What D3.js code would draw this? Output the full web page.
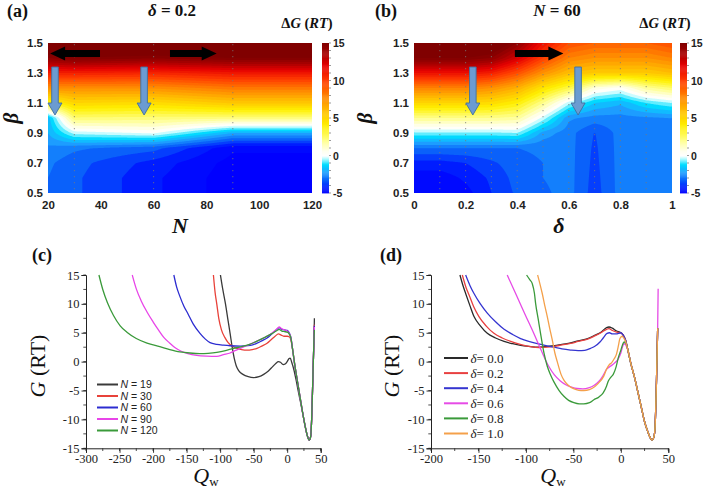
<!DOCTYPE html>
<html><head><meta charset="utf-8">
<script src="https://cdn.jsdelivr.net/npm/d3@7/dist/d3.min.js"></script>
<style>html,body{margin:0;padding:0;background:#fff;}svg{display:block}</style>
</head><body>
<svg id="fig" width="709" height="496"></svg>
<script>
// ---------------- data ----------------
const betaVals = [0.5,0.6,0.7,0.8,0.9,1.0,1.1,1.2,1.3,1.4,1.5];
const nVals = [20,30,60,90,120];
// rows: beta 0.5 -> 1.5 ; cols: nVals   (ΔG in RT, panel a, δ = 0.2)
const dG_N = [
 [-3.0,-3.4,-4.4,-5.3,-5.3],
 [-3.0,-3.4,-4.4,-5.3,-5.3],
 [-2.9,-3.3,-4.2,-5.2,-5.2],
 [-2.6,-2.9,-3.3,-4.9,-4.9],
 [-2.0,-0.3,0.1,-2.0,-2.0],
 [-1.8,2.4,2.3,2.2,2.2],
 [3.6,5.0,4.8,5.6,5.6],
 [7.6,7.6,7.6,8.3,8.3],
 [11.0,11.0,10.8,11.3,11.3],
 [14.5,15.0,14.6,15.0,15.0],
 [17,17,17,17,17]
];
const deltaVals = [0,0.1,0.2,0.3,0.4,0.5,0.6,0.7,0.8,0.9,1.0];
// rows: beta 0.5 -> 1.5 ; cols: deltaVals  (ΔG in RT, panel b, N = 60)
const dG_delta = [
 [-5.0,-5.0,-4.7,-4.0,-3.4,-3.1,-2.8,-3.75,-2.8,-2.8,-2.8],
 [-4.8,-4.8,-4.4,-3.9,-3.3,-3.0,-2.8,-3.7,-2.8,-2.8,-2.8],
 [-4.2,-4.2,-4.0,-3.6,-3.2,-3.0,-2.8,-3.65,-2.8,-2.8,-2.8],
 [-3.0,-3.0,-3.0,-3.0,-3.0,-2.9,-2.8,-3.6,-2.8,-2.8,-2.8],
 [-0.6,-0.6,-0.6,-0.6,-0.5,-2.2,-2.8,-3.52,-2.8,-2.8,-2.8],
 [2.0,2.0,2.0,2.0,1.8,-0.2,-2.4,-2.7,-2.7,-2.6,-2.5],
 [5.0,5.0,5.0,4.8,4.0,2.0,-0.3,-1.5,-1.9,-1.0,-0.5],
 [8.0,8.0,8.0,7.5,6.5,4.5,3.0,0.8,0.3,1.8,2.5],
 [11.5,11.5,11.5,11.0,9.5,7.5,6.0,5.5,5.5,5.5,6.0],
 [15,15,15,14.5,12.5,10,8,7.5,7.5,7.5,8],
 [17,17,17,16.5,14.5,11.5,9.5,9,9,9,9.5]
];
const betaTicks = [0.5,0.7,0.9,1.1,1.3,1.5];
const nTicks = [20,40,60,80,100,120];
const deltaTicks = [0,0.2,0.4,0.6,0.8,1];
const cbTicks = [-5,0,5,10,15];
const gridN = [30,60,90];
const gridDelta = [0.1,0.2,0.3,0.4,0.5,0.6,0.7,0.8,0.9];

// annotation arrows (data coordinates)
const blackArrowsA = [{from:39.7,to:20.8,beta:1.43},{from:66.2,to:83.9,beta:1.43}];
const blueArrowsA = [{x:22.65,from:1.34,to:1.02},{x:56.4,from:1.34,to:1.02}];
const blackArrowsB = [{from:0.391,to:0.579,beta:1.43}];
const blueArrowsB = [{x:0.228,from:1.34,to:1.02},{x:0.636,from:1.34,to:1.02}];

// panel c : G(Qw) for different N
const tailC = [[23,-8.8],[26.5,-11],[30,-12.8],[33,-13.6],[35,-13],[36.5,-10],[37.8,-5],[39,0],[40,4]];
const descC = [[8,2.2],[11,-0.3],[14,-2.5],[17,-4.6],[20,-6.7]];
const gN19 = [[-99.5,15],[-96,12.5],[-92,10],[-88,7],[-85,4.8],[-82,2.5],[-79,0.6],[-76,-0.7],[-72,-1.6],[-66,-2.2],[-58,-2.6],[-50,-2.75],[-42,-2.6],[-35,-2.2],[-28,-1.6],[-22,-0.9],[-17,-0.3],[-13,0.0],[-10,-0.1],[-6,-0.5],[-3,-0.4],[0,0],[2.5,0.5],[4.5,0.6],[7,-0.2],[10,-1.4],[13,-3.0],[16,-4.8],[19.5,-6.8]];
const gN30 = [[-110,15],[-107.5,12],[-105,10],[-102,7.5],[-98,5.5],[-93,4.2],[-88,3.3],[-82,2.7],[-75,2.3],[-68,2.1],[-60,2.0],[-52,2.1],[-45,2.3],[-38,2.7],[-30,3.2],[-24,3.8],[-18,4.4],[-13,4.8],[-9,4.6],[-5,4.4],[0,4.4],[3,4.3],[5.5,3.8]];
const gN60 = [[-169,15],[-165,13],[-160,11.3],[-154,9.6],[-148,8.3],[-140,6.5],[-130,4.9],[-122,3.9],[-115,3.3],[-105,3.0],[-95,2.85],[-85,2.75],[-70,2.7],[-55,2.8],[-45,3.2],[-38,3.6],[-30,4.1],[-22,4.9],[-16,5.5],[-12,5.9],[-8,5.6],[-4,5.5],[0,5.4],[3,5.0],[5.5,4.2]];
const gN90 = [[-231,15],[-225,12.6],[-218,10.6],[-209,8.6],[-200,6.9],[-192,5.5],[-184,4.2],[-175,3.2],[-167,2.4],[-158,1.8],[-148,1.4],[-135,1.1],[-120,0.95],[-105,0.9],[-95,1.2],[-85,1.5],[-78,1.9],[-70,2.3],[-60,2.8],[-50,3.3],[-40,3.8],[-30,4.4],[-22,5.0],[-16,5.6],[-12,6.0],[-8,5.7],[-4,5.5],[0,5.3],[3,4.9],[5.5,4.2]];
const gN120 = [[-280.7,15],[-275,12.5],[-268,10.2],[-259,8.0],[-249,6.2],[-238,5.0],[-225,4.0],[-209,3.2],[-190,2.6],[-175,2.1],[-160,1.7],[-145,1.5],[-130,1.4],[-118,1.45],[-105,1.6],[-92,1.9],[-80,2.3],[-68,2.6],[-56,3.0],[-44,3.6],[-32,4.3],[-22,4.9],[-15,5.4],[-12,5.6],[-8,5.3],[-4,5.2],[0,5.1],[3,4.8],[5.5,4.1]];
const endC = [7.5,6.4,6.2,6.0,5.5];
const labelsC = ["19","30","60","90","120"];

// panel d : G(Qw) for different delta
const tailD = [[7.7,1.8],[10.5,-0.3],[14.7,-2.9],[18,-5.3],[21.7,-8],[25,-10.4],[28.8,-12.3],[31,-13.2],[33,-13.6],[34.5,-13.2],[35.8,-12],[36.8,-8],[37.6,-3],[38.3,2],[38.8,5.8]];
const gD00 = [[-169.5,15],[-166,13],[-163.5,11.8],[-159,9.7],[-154.7,7.8],[-148,6.2],[-140.7,4.9],[-132,4.1],[-123,3.5],[-114,3.1],[-105.6,2.8],[-95,2.6],[-88,2.5],[-80,2.6],[-70,2.75],[-62,3.0],[-53,3.25],[-45,3.6],[-35,4.0],[-27,4.6],[-21,5.1],[-15,5.9],[-12.5,6.0],[-9,5.8],[-4.5,5.3],[0,5.0],[2.5,4.6],[5,3.7]];
const gD02 = [[-167,15],[-163,12.8],[-160,11.6],[-155,9.5],[-149.5,7.8],[-142,6.2],[-133.7,4.9],[-125,4.1],[-116,3.5],[-106,3.0],[-95,2.6],[-86,2.45],[-77.5,2.5],[-70,2.65],[-62,2.9],[-53,3.15],[-45,3.5],[-35,3.9],[-27,4.5],[-21,5.0],[-15,5.6],[-12.5,5.7],[-9,5.4],[-4.5,5.1],[0,5.0],[2.5,4.6],[5,3.7]];
const gD04 = [[-163.5,15],[-159,13.2],[-154.7,11.8],[-148,10],[-140.7,8.4],[-132,6.9],[-123,5.6],[-114,4.7],[-105.6,4.0],[-97,3.5],[-88,3.1],[-80,2.8],[-70.5,2.5],[-62,2.2],[-53,2.0],[-45,1.9],[-38,1.95],[-32,2.3],[-27,2.7],[-22,3.4],[-18.6,4.1],[-14.5,4.9],[-12,5.0],[-9,4.8],[-5,4.8],[0,5.0],[2.5,4.6],[5,3.7]];
const gD06 = [[-119.7,15],[-110,11.5],[-101,8.2],[-92,5.0],[-84,2.0],[-76,-0.8],[-70,-2.3],[-64,-3.3],[-58,-4.0],[-52,-4.4],[-46,-4.65],[-40,-4.7],[-34,-4.55],[-28,-4.1],[-23,-3.4],[-19,-2.5],[-15,-1.3],[-11,-0.8],[-7,-0.3],[-3,0.4],[0,1.5],[2.5,2.9],[4,3.1],[6,2.6]];
const gD08 = [[-99.3,15],[-96,14.2],[-93.3,13.5],[-91,11.8],[-89.8,10.1],[-87,7.3],[-84.6,4.9],[-81,1.5],[-77.5,-0.8],[-74,-2.3],[-70.5,-3.5],[-65,-5.0],[-60,-6.0],[-55,-6.7],[-49.5,-7.1],[-44,-7.3],[-39,-7.3],[-33,-7.1],[-28.4,-6.6],[-23,-6.1],[-18.6,-5.4],[-15,-4.2],[-13.3,-3.4],[-10,-2.6],[-8,-2.2],[-5,-0.9],[-2.8,0.6],[0,2.0],[2.5,3.2],[4,3.4],[6,2.9]];
const gD10 = [[-87.7,15],[-85,13.3],[-82.8,11.8],[-80,9.6],[-77.5,7.8],[-75,5.8],[-72.3,3.8],[-69.5,1.5],[-67,0.0],[-63,-2.2],[-60,-3.2],[-56,-4.0],[-52,-4.5],[-47,-4.85],[-42,-5.0],[-36,-4.95],[-30,-4.6],[-24,-3.8],[-18,-2.5],[-15,-1.3],[-12,-0.5],[-9.8,-0.2],[-7,0.5],[-4.6,1.3],[-2.5,2.8],[-1,4.0],[1.4,4.4],[3,4.1],[5,3.5]];
const labelsD = ["0.0","0.2","0.4","0.6","0.8","1.0"];
const qTicksC = [-300,-250,-200,-150,-100,-50,0,50];
const qTicksD = [-200,-150,-100,-50,0,50];
const gTicks = [-15,-10,-5,0,5,10,15];

// ---------------- styles ----------------
const sans = "'Liberation Sans', Arial, sans-serif";
const serif = "'Liberation Serif', 'Times New Roman', serif";
const colorStops = [-5,-4.2,-3.2,-2.2,-1.2,-0.4,0,0.6,2,4,6,8,10,12,13.5,15];
const colorVals = ['#0000ff','#001eff','#0a64fa','#1ea0ff','#00dcff','#aafaff','#ffffff','#fffff0','#ffff8c','#fff000','#ffbe00','#ff8200','#ff3c00','#e60000','#aa0000','#800000'];
const color = d3.scaleLinear().domain(colorStops).range(colorVals).clamp(true);
const colorsC = ['#3a3a3a','#e8423a','#2c2cd0','#e845e8','#3a9a3a'];
const colorsD = ['#2a2a2a','#e84040','#3535d0','#e64be6','#3a9a3a','#f4a04a'];

const svg = d3.select('#fig');
svg.append('rect').attr('width',709).attr('height',496).attr('fill','#fff');
const defs = svg.append('defs');

function interp2(xs, ys, M, xv, yv){
  let ci = d3.bisectRight(xs, xv) - 1; ci = Math.max(0, Math.min(xs.length-2, ci));
  let ri = d3.bisectRight(ys, yv) - 1; ri = Math.max(0, Math.min(ys.length-2, ri));
  const tx = (xv - xs[ci])/(xs[ci+1]-xs[ci]);
  const ty = (yv - ys[ri])/(ys[ri+1]-ys[ri]);
  const a=M[ri][ci], b=M[ri][ci+1], c=M[ri+1][ci], d=M[ri+1][ci+1];
  return (a*(1-tx)+b*tx)*(1-ty) + (c*(1-tx)+d*tx)*ty;
}

function heatPanel(o){
  const x = d3.scaleLinear().domain(o.xDomain).range(o.xRange);
  const y = d3.scaleLinear().domain([0.5,1.5]).range([193,43]);
  const g = svg.append('g');
  const clipId = 'clip'+o.id;
  defs.append('clipPath').attr('id',clipId).append('rect')
    .attr('x',o.xRange[0]).attr('y',43).attr('width',o.xRange[1]-o.xRange[0]).attr('height',150);
  const nx=260, ny=170;
  const [x0,x1]=o.xDomain, y0=0.5, y1=1.5;
  const vals = new Array(nx*ny);
  for(let j=0;j<ny;j++){ const yv = y1-(j+0.5)/ny*(y1-y0);
    for(let i=0;i<nx;i++){ const xv = x0+(i+0.5)/nx*(x1-x0);
      vals[j*nx+i] = interp2(o.xVals, betaVals, o.M, xv, yv); } }
  const cs = d3.contours().size([nx,ny]).thresholds(d3.range(-8,20,0.5))(vals);
  const proj = d3.geoTransform({point(px,py){ this.stream.point(x(x0+px/nx*(x1-x0)), y(y1-py/ny*(y1-y0))); }});
  const path = d3.geoPath(proj);
  g.append('g').attr('clip-path',`url(#${clipId})`).selectAll('path').data(cs).join('path')
    .attr('d',path).attr('fill',d=>color(d.value+0.25)).attr('fill-rule','evenodd');
  // dotted grid
  g.append('g').selectAll('line').data(o.grid).join('line')
    .attr('x1',d=>x(d)).attr('x2',d=>x(d)).attr('y1',44).attr('y2',193)
    .attr('stroke','#7a7a7a').attr('stroke-width',1.1).attr('stroke-dasharray','1.2,4.8').attr('opacity',0.7);
  // axes
  const ax = g.append('g').attr('transform','translate(0,193)')
    .call(d3.axisBottom(x).tickValues(o.xTicks).tickSize(0).tickPadding(8).tickFormat(d=>String(d)));
  const ay = g.append('g').attr('transform',`translate(${o.xRange[0]},0)`)
    .call(d3.axisLeft(y).tickValues(betaTicks).tickSize(0).tickPadding(5).tickFormat(d=>d.toFixed(1)));
  [ax,ay].forEach(a=>{ a.select('.domain').remove();
    a.selectAll('text').attr('font-family',sans).attr('font-weight','bold').attr('font-size',11.5).attr('fill','#222'); });
  // colorbar
  const cb = d3.scaleLinear().domain([-5,15]).range([193,43]);
  const cbg = g.append('g');
  cbg.selectAll('rect').data(d3.range(-5,15,0.125)).join('rect')
    .attr('x',o.cbX).attr('width',7).attr('y',d=>cb(d+0.125)).attr('height',d=>cb(d)-cb(d+0.125)+0.4)
    .attr('fill',d=>color(d+0.0625));
  cbg.selectAll('line').data(d3.range(-5,15.01,1)).join('line')
    .attr('x1',o.cbX+7).attr('x2',o.cbX+9).attr('y1',d=>cb(d)).attr('y2',d=>cb(d)).attr('stroke','#555').attr('stroke-width',0.6);
  cbg.selectAll('text').data(cbTicks).join('text')
    .attr('x',o.cbX+11).attr('y',d=>cb(d)+4).text(d=>String(d))
    .attr('font-family',sans).attr('font-weight','bold').attr('font-size',10.5).attr('fill','#222');
  // ΔG label
  const t = g.append('text').attr('x',o.cbX-15).attr('y',28).attr('text-anchor','middle')
    .attr('font-family',serif).attr('font-weight','bold').attr('font-size',14.5).attr('fill','#111');
  t.append('tspan').text('Δ'); t.append('tspan').attr('font-style','italic').text('G');
  t.append('tspan').text(' ('); t.append('tspan').attr('font-style','italic').text('RT'); t.append('tspan').text(')');
  // arrows
  const ah = g.append('g');
  o.black.forEach(a=>{
    const xt=x(a.from), xp=x(a.to), yc=y(a.beta), dir=Math.sign(xp-xt), hl=15;
    const pts=[[xt,yc-3.6],[xp-dir*hl,yc-3.6],[xp-dir*hl,yc-7],[xp,yc],[xp-dir*hl,yc+7],[xp-dir*hl,yc+3.6],[xt,yc+3.6]];
    ah.append('polygon').attr('points',pts.map(p=>p.join(',')).join(' ')).attr('fill','#000');
  });
  o.blue.forEach(a=>{
    const xc=x(a.x), yt=y(a.from), yp=y(a.to), hl=12;
    const pts=[[xc-3.3,yt],[xc+3.3,yt],[xc+3.3,yp-hl],[xc+7,yp-hl],[xc,yp],[xc-7,yp-hl],[xc-3.3,yp-hl]];
    ah.append('polygon').attr('points',pts.map(p=>p.join(',')).join(' '))
      .attr('fill','#6b9bd1').attr('stroke','#41709f').attr('stroke-width',0.9);
  });
}

heatPanel({id:'a', xDomain:[20,120], xRange:[48,312], xVals:nVals, M:dG_N, grid:gridN, xTicks:nTicks, cbX:322, black:blackArrowsA, blue:blueArrowsA});
heatPanel({id:'b', xDomain:[0,1], xRange:[414,672], xVals:deltaVals, M:dG_delta, grid:gridDelta, xTicks:deltaTicks, cbX:680, black:blackArrowsB, blue:blueArrowsB});

// titles & labels top
function txt(x,y,size,opts){ const t=svg.append('text').attr('x',x).attr('y',y).attr('font-size',size)
  .attr('font-family',opts.family||serif).attr('font-weight',opts.weight||'normal').attr('text-anchor',opts.anchor||'start').attr('fill','#111');
  if(opts.rotate) t.attr('transform',`rotate(-90,${x},${y})`); return t; }
txt(7,17,18,{weight:'bold'}).text('(a)');
txt(375,17,18,{weight:'bold'}).text('(b)');
let tt = txt(172,16,17,{weight:'bold',anchor:'middle'});
tt.append('tspan').attr('font-style','italic').text('δ'); tt.append('tspan').text(' = 0.2');
tt = txt(557,16,17,{weight:'bold',anchor:'middle'});
tt.append('tspan').attr('font-style','italic').text('N'); tt.append('tspan').text(' = 60');
txt(180,233,22,{weight:'bold',anchor:'middle'}).attr('font-style','italic').text('N');
txt(559,233,22,{weight:'bold',anchor:'middle'}).attr('font-style','italic').text('δ');
txt(18,118,21,{weight:'bold',anchor:'middle',rotate:true}).attr('font-style','italic').text('β');
txt(372,118,21,{weight:'bold',anchor:'middle',rotate:true}).attr('font-style','italic').text('β');

// ---------------- line panels ----------------
function linePanel(o){
  const x = d3.scaleLinear().domain(o.xDomain).range(o.xRange);
  const y = d3.scaleLinear().domain([-15,15]).range([448.3,275]);
  const g = svg.append('g');
  const clipId='clip'+o.id;
  defs.append('clipPath').attr('id',clipId).append('rect')
    .attr('x',o.xRange[0]).attr('y',260).attr('width',o.xRange[1]-o.xRange[0]+5).attr('height',190);
  const minorX = d3.range(o.xDomain[0], o.xDomain[1]+0.1, 25);
  g.append('g').selectAll('line').data(minorX).join('line')
    .attr('x1',d=>x(d)).attr('x2',d=>x(d)).attr('y1',448.3).attr('y2',451).attr('stroke','#222').attr('stroke-width',0.8);
  g.append('g').selectAll('line').data(d3.range(-15,15.1,2.5)).join('line')
    .attr('x1',o.xRange[0]).attr('x2',o.xRange[0]-2.7).attr('y1',d=>y(d)).attr('y2',d=>y(d)).attr('stroke','#222').attr('stroke-width',0.8);
  const ax = g.append('g').attr('transform','translate(0,448.3)')
    .call(d3.axisBottom(x).tickValues(o.xTicks).tickSize(4.5).tickPadding(1).tickFormat(d=>String(d)));
  const ay = g.append('g').attr('transform',`translate(${o.xRange[0]},0)`)
    .call(d3.axisLeft(y).tickValues(gTicks).tickSize(4.5).tickPadding(2).tickFormat(d=>String(d)));
  [ax,ay].forEach(a=>{ a.select('.domain').attr('stroke','#222').attr('stroke-width',1);
    a.selectAll('line').attr('stroke','#222').attr('stroke-width',0.9);
    a.selectAll('text').attr('font-family',serif).attr('font-size',12.5).attr('fill','#222'); });
  const line = d3.line().x(d=>x(d[0])).y(d=>y(d[1])).curve(d3.curveMonotoneX);
  const lg = g.append('g').attr('clip-path',`url(#${clipId})`);
  o.series.forEach((s,i)=>{
    lg.append('path').attr('d',line(s)).attr('fill','none').attr('stroke',o.colors[i]).attr('stroke-width',1.3);
  });
  o.labels.forEach((lab,i)=>{
    const yy = o.legY + i*o.legDy;
    g.append('line').attr('x1',o.legX).attr('x2',o.legX+o.legLen).attr('y1',yy).attr('y2',yy)
      .attr('stroke',o.colors[i]).attr('stroke-width',2);
    const t = g.append('text').attr('x',o.legX+o.legLen+2.5).attr('y',yy+o.legFont*0.35)
      .attr('font-family',o.legFamily).attr('font-size',o.legFont).attr('fill','#222');
    t.append('tspan').attr('font-style','italic').text(o.sym);
    t.append('tspan').text(o.eq + lab);
  });
  const gy = txt(o.gLabelX,366,22,{anchor:'middle',rotate:true});
  gy.append('tspan').attr('font-style','italic').text('G'); gy.append('tspan').text(' (RT)');
  const q = txt(o.qLabelX,483,22,{anchor:'middle'});
  q.append('tspan').attr('font-style','italic').text('Q');
  q.append('tspan').attr('font-size',13).attr('dy',3).text('w');
}

linePanel({id:'c', xDomain:[-300,50], xRange:[86,320.7], xTicks:qTicksC,
  series:[
    gN19.concat(tailC,[[40.6,endC[0]]]),
    gN30.concat(descC,tailC,[[40.6,endC[1]]]),
    gN60.concat(descC,tailC,[[40.6,endC[2]]]),
    gN90.concat(descC,tailC,[[40.6,endC[3]]]),
    gN120.concat(descC,tailC,[[40.6,endC[4]]])
  ], colors:colorsC, labels:labelsC, sym:'N', eq:' = ', legX:97, legLen:21, legY:384.5, legDy:11.5,
  legFont:10.5, legFamily:sans, gLabelX:45, qLabelX:206});
linePanel({id:'d', xDomain:[-200,50], xRange:[431,668.3], xTicks:qTicksD,
  series:[
    gD00.concat(tailD), gD02.concat(tailD), gD04.concat(tailD),
    gD06.concat(tailD,[[39.3,12.6]]), gD08.concat(tailD), gD10.concat(tailD)
  ], colors:colorsD, labels:labelsD, sym:'δ', eq:'= ', legX:444, legLen:24, legY:358, legDy:15.1,
  legFont:13, legFamily:serif, gLabelX:399, qLabelX:553});

txt(32,261,18,{weight:'bold'}).text('(c)');
txt(380,261,18,{weight:'bold'}).text('(d)');
</script>
</body></html>
